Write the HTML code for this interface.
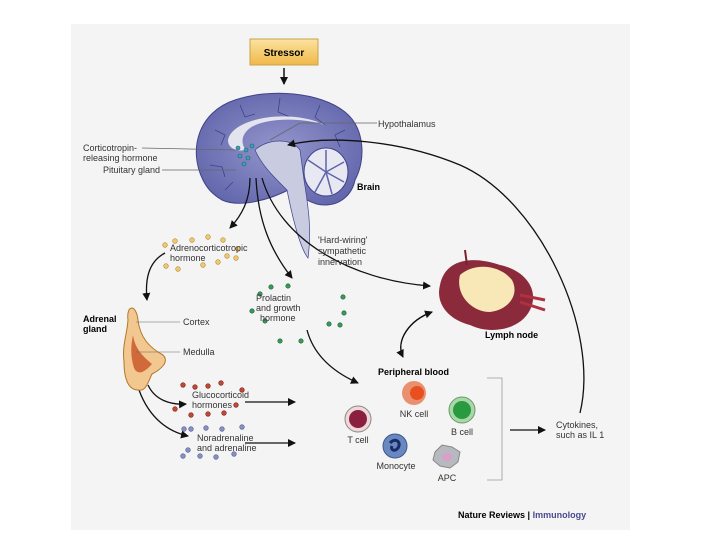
<!DOCTYPE html>
<html><head><meta charset="utf-8"><style>
body{margin:0;background:#fff;}
svg{display:block;font-family:"Liberation Sans",sans-serif;}
</style></head><body>
<svg width="720" height="540" viewBox="0 0 720 540" xmlns="http://www.w3.org/2000/svg">
<defs>
<marker id="a" markerWidth="8" markerHeight="8" refX="7" refY="4" orient="auto" markerUnits="userSpaceOnUse"><path d="M0,0 L8,4 L0,8 z" fill="#111"/></marker>
<linearGradient id="g" x1="0" y1="0" x2="0" y2="1"><stop offset="0" stop-color="#fbe3a0"/><stop offset="1" stop-color="#f0b848"/></linearGradient>
<radialGradient id="brn" cx="0.5" cy="0.5" r="0.6"><stop offset="0" stop-color="#9496cc"/><stop offset="1" stop-color="#6064aa"/></radialGradient>
</defs>
<rect x="71" y="24" width="559" height="506" fill="#f4f4f4"/>
<rect x="250" y="39" width="68" height="26" fill="url(#g)" stroke="#c9a24a"/>
<text x="284" y="56" font-size="10" font-weight="bold" text-anchor="middle">Stressor</text>
<line x1="284" y1="68" x2="284" y2="84" stroke="#111" stroke-width="1.5" marker-end="url(#a)"/>
<!-- brain -->
<path d="M203,180 C188,150 198,112 235,100 C270,88 320,92 345,112 C365,128 366,160 355,180 C352,195 340,205 325,205 C310,205 300,195 292,188 C270,200 240,208 222,200 C212,194 207,188 203,180 z" fill="url(#brn)" stroke="#3f4288"/>
<g stroke="#3f4288" stroke-width="0.8" fill="none"><path d="M215,130 l10,5 l-4,10"/><path d="M240,105 l5,12 l10,-3"/><path d="M280,98 l-2,14 l12,5"/><path d="M320,105 l-5,12 l10,8"/><path d="M345,130 l-10,5 l5,12"/><path d="M210,165 l12,2 l3,10"/><path d="M225,190 l8,-8"/></g>
<path d="M228,140 C232,118 290,108 325,125 C300,117 265,118 250,128 C242,134 240,143 246,150 C236,152 228,148 228,140z" fill="#e4e4ee"/>
<path d="M255,150 C268,138 292,138 300,150 L304,180 C308,205 312,230 308,258 C300,248 292,215 287,190 C275,178 262,166 255,150z" fill="#c9cbe0" stroke="#3f4288" stroke-width="0.7"/>
<ellipse cx="326" cy="172" rx="22" ry="24" fill="#e8e8f2" stroke="#3f4288"/>
<g stroke="#6064aa" stroke-width="1.5"><line x1="326" y1="172" x2="326" y2="150"/><line x1="326" y1="172" x2="344" y2="162"/><line x1="326" y1="172" x2="344" y2="182"/><line x1="326" y1="172" x2="315" y2="192"/><line x1="326" y1="172" x2="308" y2="160"/><line x1="326" y1="172" x2="332" y2="194"/></g>
<g fill="#3fa0b0" stroke="#1b5e70" stroke-width="0.6"><circle cx="238" cy="148" r="2"/><circle cx="246" cy="150" r="2"/><circle cx="240" cy="156" r="2"/><circle cx="248" cy="158" r="2"/><circle cx="244" cy="164" r="2"/><circle cx="252" cy="146" r="2"/></g>
<line x1="377" y1="123" x2="300" y2="123" stroke="#666" stroke-width="0.8"/><line x1="300" y1="123" x2="270" y2="140" stroke="#666" stroke-width="0.8"/>
<text x="378" y="127" font-size="9" fill="#333">Hypothalamus</text>
<text x="83" y="151" font-size="9" fill="#333">Corticotropin-</text>
<text x="83" y="161" font-size="9" fill="#333">releasing hormone</text>
<text x="103" y="173" font-size="9" fill="#333">Pituitary gland</text>
<line x1="142" y1="148" x2="236" y2="150" stroke="#666" stroke-width="0.7"/>
<line x1="162" y1="170" x2="236" y2="170" stroke="#666" stroke-width="0.7"/>
<text x="357" y="190" font-size="9" font-weight="bold">Brain</text>
<g fill="none" stroke="#111" stroke-width="1.3">
<path d="M580,413 C600,330 540,200 460,165 C400,140 330,135 288,145" marker-end="url(#a)"/>
<path d="M250,178 C250,200 242,215 230,228" marker-end="url(#a)"/>
<path d="M256,178 C258,220 270,250 292,278" marker-end="url(#a)"/>
<path d="M262,178 C280,240 350,280 430,286" marker-end="url(#a)"/>
<path d="M165,253 C148,262 145,280 147,300" marker-end="url(#a)"/>
<path d="M307,330 C315,360 340,375 358,383" marker-end="url(#a)"/>
<path d="M148,385 C155,400 170,405 186,404" marker-end="url(#a)"/>
<path d="M139,390 C150,420 170,432 188,436" marker-end="url(#a)"/>
<line x1="245" y1="402" x2="295" y2="402" marker-end="url(#a)"/>
<line x1="245" y1="443" x2="295" y2="443" marker-end="url(#a)"/>
<line x1="510" y1="430" x2="545" y2="430" marker-end="url(#a)"/>
<path d="M403,357 C395,340 410,320 432,312" marker-end="url(#a)"/>
<path d="M432,312 C410,320 395,340 403,357" marker-end="url(#a)"/>
</g>
<polyline points="487,378 502,378 502,480 487,480" fill="none" stroke="#999" stroke-width="0.8"/>
<g fill="#f0c870" stroke="#b08830" stroke-width="0.6">
<circle cx="165" cy="245" r="2.3"/><circle cx="175" cy="241" r="2.3"/><circle cx="192" cy="240" r="2.3"/><circle cx="208" cy="237" r="2.3"/><circle cx="223" cy="240" r="2.3"/><circle cx="236" cy="258" r="2.3"/><circle cx="238" cy="249" r="2.3"/><circle cx="166" cy="266" r="2.3"/><circle cx="178" cy="269" r="2.3"/><circle cx="203" cy="265" r="2.3"/><circle cx="218" cy="262" r="2.3"/><circle cx="227" cy="256" r="2.3"/>
</g>
<text x="170" y="251" font-size="9" fill="#333">Adrenocorticotropic</text>
<text x="170" y="261" font-size="9" fill="#333">hormone</text>
<text x="318" y="243" font-size="9" fill="#333">'Hard-wiring'</text>
<text x="318" y="254" font-size="9" fill="#333">sympathetic</text>
<text x="318" y="265" font-size="9" fill="#333">innervation</text>
<g fill="#3a9a5a" stroke="#1d5e32" stroke-width="0.6">
<circle cx="271" cy="287" r="2.2"/><circle cx="288" cy="286" r="2.2"/><circle cx="260" cy="294" r="2.2"/><circle cx="252" cy="311" r="2.2"/><circle cx="344" cy="313" r="2.2"/><circle cx="343" cy="297" r="2.2"/><circle cx="280" cy="341" r="2.2"/><circle cx="265" cy="321" r="2.2"/><circle cx="340" cy="325" r="2.2"/><circle cx="301" cy="341" r="2.2"/><circle cx="329" cy="324" r="2.2"/></g>
<text x="256" y="301" font-size="9" fill="#333">Prolactin</text>
<text x="256" y="311" font-size="9" fill="#333">and growth</text>
<text x="260" y="321" font-size="9" fill="#333">hormone</text>
<path d="M128,320 C126,305 136,303 138,320 C140,338 150,348 163,355 C170,362 160,370 152,374 C148,382 146,392 138,390 C128,390 124,378 124,362 C122,345 127,335 128,320z" fill="#f2c890" stroke="#b07828"/>
<path d="M133,335 C135,350 145,358 152,364 C145,372 138,376 134,368 C130,355 131,345 133,335z" fill="#d06a3a"/>
<text x="83" y="322" font-size="9" font-weight="bold">Adrenal</text>
<text x="83" y="332" font-size="9" font-weight="bold">gland</text>
<text x="183" y="325" font-size="9" fill="#333">Cortex</text>
<text x="183" y="355" font-size="9" fill="#333">Medulla</text>
<line x1="136" y1="322" x2="180" y2="322" stroke="#666" stroke-width="0.6"/>
<line x1="136" y1="352" x2="180" y2="352" stroke="#666" stroke-width="0.6"/>
<g fill="#c04838" stroke="#7a2018" stroke-width="0.6">
<circle cx="183" cy="385" r="2.3"/><circle cx="195" cy="387" r="2.3"/><circle cx="208" cy="386" r="2.3"/><circle cx="221" cy="383" r="2.3"/><circle cx="242" cy="390" r="2.3"/><circle cx="175" cy="409" r="2.3"/><circle cx="236" cy="405" r="2.3"/><circle cx="191" cy="415" r="2.3"/><circle cx="208" cy="414" r="2.3"/><circle cx="224" cy="413" r="2.3"/></g>
<text x="192" y="398" font-size="9" fill="#333">Glucocorticoid</text>
<text x="192" y="408" font-size="9" fill="#333">hormones</text>
<g fill="#8890c0" stroke="#505890" stroke-width="0.6">
<circle cx="184" cy="429" r="2.3"/><circle cx="191" cy="429" r="2.3"/><circle cx="206" cy="428" r="2.3"/><circle cx="222" cy="429" r="2.3"/><circle cx="242" cy="427" r="2.3"/><circle cx="188" cy="450" r="2.3"/><circle cx="183" cy="456" r="2.3"/><circle cx="200" cy="456" r="2.3"/><circle cx="216" cy="457" r="2.3"/><circle cx="234" cy="454" r="2.3"/></g>
<text x="197" y="441" font-size="9" fill="#333">Noradrenaline</text>
<text x="197" y="451" font-size="9" fill="#333">and adrenaline</text>
<path d="M440,285 C445,260 470,255 500,265 C525,270 540,290 530,310 C520,330 490,335 470,325 C450,320 435,305 440,285z" fill="#8a2a3a"/>
<path d="M460,275 C475,262 500,265 512,280 C520,295 508,310 490,312 C472,312 455,295 460,275z" fill="#f8e8b8"/>
<path d="M520,295 L545,300 M520,302 L545,310" stroke="#b03040" stroke-width="3"/>
<line x1="467" y1="265" x2="465" y2="250" stroke="#7a2030" stroke-width="2"/>
<text x="485" y="338" font-size="9" font-weight="bold">Lymph node</text>
<text x="378" y="375" font-size="9" font-weight="bold">Peripheral blood</text>
<circle cx="358" cy="419" r="13" fill="#f0d8d8" stroke="#888"/><circle cx="358" cy="419" r="9" fill="#8a2040"/>
<text x="358" y="443" font-size="9" fill="#333" text-anchor="middle">T cell</text>
<circle cx="414" cy="393" r="12" fill="#e89070"/><circle cx="417" cy="393" r="7" fill="#e85020"/>
<text x="414" y="417" font-size="9" fill="#333" text-anchor="middle">NK cell</text>
<circle cx="462" cy="410" r="13" fill="#a8d8a8" stroke="#6a9a6a"/><circle cx="462" cy="410" r="9" fill="#2a9a40"/>
<text x="462" y="435" font-size="9" fill="#333" text-anchor="middle">B cell</text>
<circle cx="395" cy="446" r="12" fill="#6a88c0" stroke="#3a5a90"/><path d="M390,443 C395,437 402,442 398,448 C395,452 390,450 392,446" stroke="#1a2a6a" stroke-width="3" fill="none"/>
<text x="396" y="469" font-size="9" fill="#333" text-anchor="middle">Monocyte</text>
<path d="M435,452 L442,445 L452,447 L460,452 L458,462 L450,468 L440,466 L433,460z" fill="#b8b8c0" stroke="#888"/><ellipse cx="447" cy="457" rx="5" ry="4" fill="#d8a0c8"/>
<text x="447" y="481" font-size="9" fill="#333" text-anchor="middle">APC</text>
<text x="556" y="428" font-size="9" fill="#333">Cytokines,</text>
<text x="556" y="438" font-size="9" fill="#333">such as IL 1</text>
<text x="458" y="518" font-size="9" font-weight="bold">Nature Reviews <tspan>|</tspan> <tspan fill="#4a4a90">Immunology</tspan></text>
</svg>
</body></html>
